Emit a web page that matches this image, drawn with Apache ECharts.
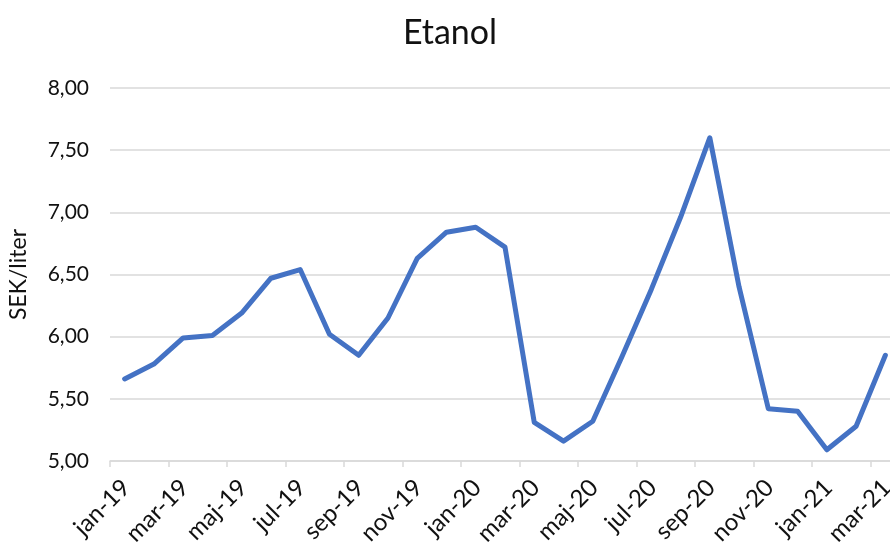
<!DOCTYPE html>
<html>
<head>
<meta charset="utf-8">
<script src="https://cdn.jsdelivr.net/npm/echarts@6/dist/echarts.min.js"></script>
<style>
html,body{margin:0;padding:0;background:#fff;}
#chart{width:890px;height:543px;}
</style>
</head>
<body>
<div id="chart"></div>
<script>
var titleText = 'Etanol';
var yAxisName = 'SEK/liter';
var categories = [
  'jan-19','feb-19','mar-19','apr-19','maj-19','jun-19','jul-19','aug-19','sep-19','okt-19','nov-19','dec-19',
  'jan-20','feb-20','mar-20','apr-20','maj-20','jun-20','jul-20','aug-20','sep-20','okt-20','nov-20','dec-20',
  'jan-21','feb-21','mar-21'
];
var values = [
  5.66, 5.78, 5.99, 6.01, 6.19, 6.47, 6.54, 6.02, 5.85, 6.15, 6.63, 6.84,
  6.88, 6.72, 5.31, 5.16, 5.32, 5.84, 6.38, 6.96, 7.60, 6.40, 5.42, 5.40,
  5.09, 5.28, 5.85
];
var yMin = 5, yMax = 8, yStep = 0.5;

var font = 'Lato';
var chart = echarts.init(document.getElementById('chart'), null, {renderer: 'canvas'});
chart.setOption({
  animation: false,
  backgroundColor: '#fff',
  title: {
    text: titleText,
    left: 450,
    top: 16,
    padding: 0,
    textAlign: 'center',
    textStyle: {fontFamily: font, fontSize: 34, fontWeight: 'normal', color: '#111'}
  },
  grid: {left: 110, right: -10, top: 88, bottom: 82, containLabel: false, outerBoundsMode: 'none'},
  xAxis: {
    type: 'category',
    data: categories,
    boundaryGap: true,
    axisLine: {show: true, lineStyle: {color: '#d9d9d9', width: 1.5}},
    axisTick: {show: true, interval: 1, length: 6, lineStyle: {color: '#d9d9d9', width: 1.5}},
    axisLabel: {
      interval: 1, rotate: 45, margin: 24, padding: [0, -2, 0, 0],
      fontFamily: font, fontSize: 24, color: '#111'
    },
    splitLine: {show: false}
  },
  yAxis: {
    type: 'value',
    min: yMin, max: yMax, interval: yStep,
    name: yAxisName,
    nameLocation: 'middle',
    nameGap: 80,
    nameTextStyle: {fontFamily: font, fontSize: 23, color: '#111'},
    axisLine: {show: false},
    axisTick: {show: false},
    axisLabel: {
      margin: 21, fontFamily: font, fontSize: 21, color: '#111',
      formatter: function (v) { return v.toFixed(2).replace('.', ','); }
    },
    splitLine: {lineStyle: {color: '#d9d9d9', width: 1.5}}
  },
  series: [{
    type: 'line',
    data: values,
    showSymbol: false,
    symbol: 'none',
    lineStyle: {color: '#4472C4', width: 5, join: 'round', cap: 'round'},
    itemStyle: {color: '#4472C4'}
  }]
});
</script>
</body>
</html>
